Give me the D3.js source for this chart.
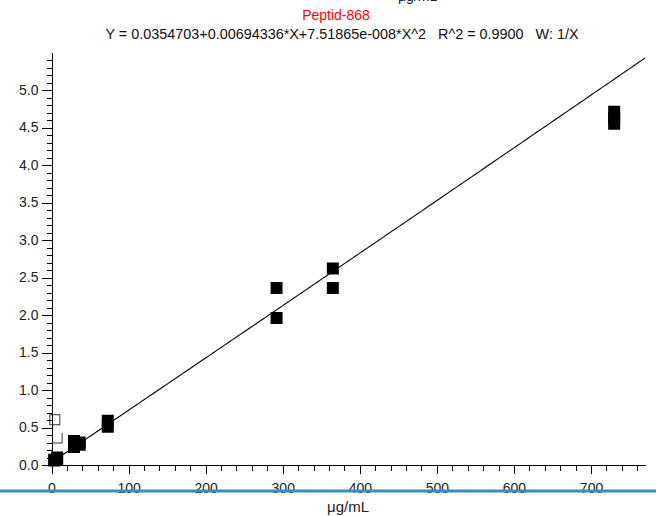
<!DOCTYPE html>
<html>
<head>
<meta charset="utf-8">
<script src="https://cdn.jsdelivr.net/npm/d3@7"></script>
<style>
  body { margin: 0; background: #fff; }
  svg { display: block; font-family: "Liberation Sans", Arial, sans-serif; }
</style>
</head>
<body>
<div id="chart"></div>
<script>
// Calibration points (concentration, response)
const concX = [3.65, 3.65, 7.3, 7.3, 29.2, 29.2, 36.5, 36.5, 73, 73, 292, 292, 365, 365, 730, 730, 730];
const respY = [0.06, 0.07, 0.08, 0.10, 0.32, 0.24, 0.30, 0.27, 0.59, 0.51, 2.36, 1.96, 2.62, 2.36, 4.71, 4.62, 4.55];

// Excluded points (open markers)
const exclX = [3.65, 7.3];
const exclY = [0.61, 0.36];

// Fit coefficients: Y = a + b*X + c*X^2
const fitCoef = [0.0354703, 0.00694336, 7.51865e-008];

const xMajorTicks = [0, 100, 200, 300, 400, 500, 600, 700];
const yMajorTicks = [0.0, 0.5, 1.0, 1.5, 2.0, 2.5, 3.0, 3.5, 4.0, 4.5, 5.0];

const titleText = 'Peptid-868';
const formulaText = 'Y = 0.0354703+0.00694336*X+7.51865e-008*X^2   R^2 = 0.9900   W: 1/X';
const xTitle = 'μg/mL';

const W = 656, H = 516;
const svg = d3.select('#chart').append('svg')
  .attr('width', W)
  .attr('height', H);

// scales
const x = d3.scaleLinear().domain([0, 770]).range([51.5, 645]);
const y = d3.scaleLinear().domain([0, 5.5]).range([465, 52.5]);

// titles (top line is cut off by the frame, as in the original export)
svg.append('text')
  .attr('x', 398).attr('y', 0.5)
  .style('font-size', '14px')
  .style('fill', '#222')
  .text(xTitle);

svg.append('text')
  .attr('x', 336).attr('y', 20)
  .attr('text-anchor', 'middle')
  .style('font-size', '14px')
  .style('fill', '#ff0000')
  .text(titleText);

svg.append('text')
  .attr('x', 342).attr('y', 39)
  .attr('text-anchor', 'middle')
  .style('font-size', '14.4px')
  .style('fill', '#111')
  .attr('xml:space', 'preserve')
  .text(formulaText);

// minor ticks
const xMinor = d3.range(0, 761, 20).filter(v => v % 100 !== 0);
const yMinor = d3.range(0, 56).map(i => i / 10).filter(v => Math.round(v * 10) % 5 !== 0);

const xAxisMinor = svg.append('g')
  .attr('transform', `translate(0,${y(0)})`)
  .call(d3.axisBottom(x).tickValues(xMinor).tickSize(6).tickFormat(''));

const xAxis = svg.append('g')
  .attr('transform', `translate(0,${y(0)})`)
  .call(d3.axisBottom(x).tickValues(xMajorTicks).tickSize(9).tickSizeOuter(0).tickFormat(d3.format('d')));

xAxis.selectAll('text')
  .attr('y', 27.5).attr('dy', 0)
  .style('font-size', '14px')
  .style('font-family', '"Liberation Sans", Arial, sans-serif')
  .style('fill', '#222');

const yAxisMinor = svg.append('g')
  .attr('transform', `translate(${x(0)},0)`)
  .call(d3.axisLeft(y).tickValues(yMinor).tickSize(5).tickFormat(''));

const yAxis = svg.append('g')
  .attr('transform', `translate(${x(0)},0)`)
  .call(d3.axisLeft(y).tickValues(yMajorTicks).tickSize(10).tickSizeOuter(0).tickPadding(3).tickFormat(d3.format('.1f')));

yAxis.selectAll('text')
  .style('font-size', '14px')
  .style('font-family', '"Liberation Sans", Arial, sans-serif')
  .style('fill', '#222');

[xAxisMinor, yAxisMinor, xAxis, yAxis].forEach(g => {
  g.selectAll('path, line').style('stroke', '#000').style('shape-rendering', 'crispEdges');
});
xAxisMinor.select('.domain').remove();
yAxisMinor.select('.domain').remove();

// regression curve
const fitPts = d3.range(0, 771, 5).map(v => [v, fitCoef[0] + fitCoef[1] * v + fitCoef[2] * v * v]);
svg.append('path')
  .datum(fitPts)
  .attr('fill', 'none')
  .attr('stroke', '#000')
  .attr('stroke-width', 1.1)
  .attr('d', d3.line().x(d => x(d[0])).y(d => y(d[1])));

// data squares
const sz = 12;
svg.selectAll('.pt')
  .data(concX.map((v, i) => [v, respY[i]]))
  .enter()
  .append('rect')
  .attr('class', 'pt')
  .attr('x', d => x(d[0]) - sz / 2)
  .attr('y', d => y(d[1]) - sz / 2)
  .attr('width', sz)
  .attr('height', sz)
  .style('fill', '#000');

// excluded markers
const osz = 10;
svg.append('rect')
  .attr('x', x(exclX[0]) - osz / 2 + 0.5)
  .attr('y', y(exclY[0]) - osz / 2 + 0.5)
  .attr('width', osz)
  .attr('height', osz)
  .style('fill', 'none')
  .style('stroke', '#333')
  .style('stroke-width', 1);

const cx = x(exclX[1]), cy = y(exclY[1]);
svg.append('path')
  .attr('d', `M${cx + osz / 2},${cy - osz / 2}V${cy + osz / 2}H${cx - osz / 2}`)
  .style('fill', 'none')
  .style('stroke', '#333')
  .style('stroke-width', 1);

// x title
svg.append('text')
  .attr('x', 348).attr('y', 512)
  .attr('text-anchor', 'middle')
  .style('font-size', '15px')
  .style('fill', '#222')
  .text(xTitle);

// blue rule across the bottom
svg.append('rect')
  .attr('x', 0).attr('y', 489.5)
  .attr('width', W).attr('height', 3)
  .style('fill', '#3a8dc1');
</script>
</body>
</html>
